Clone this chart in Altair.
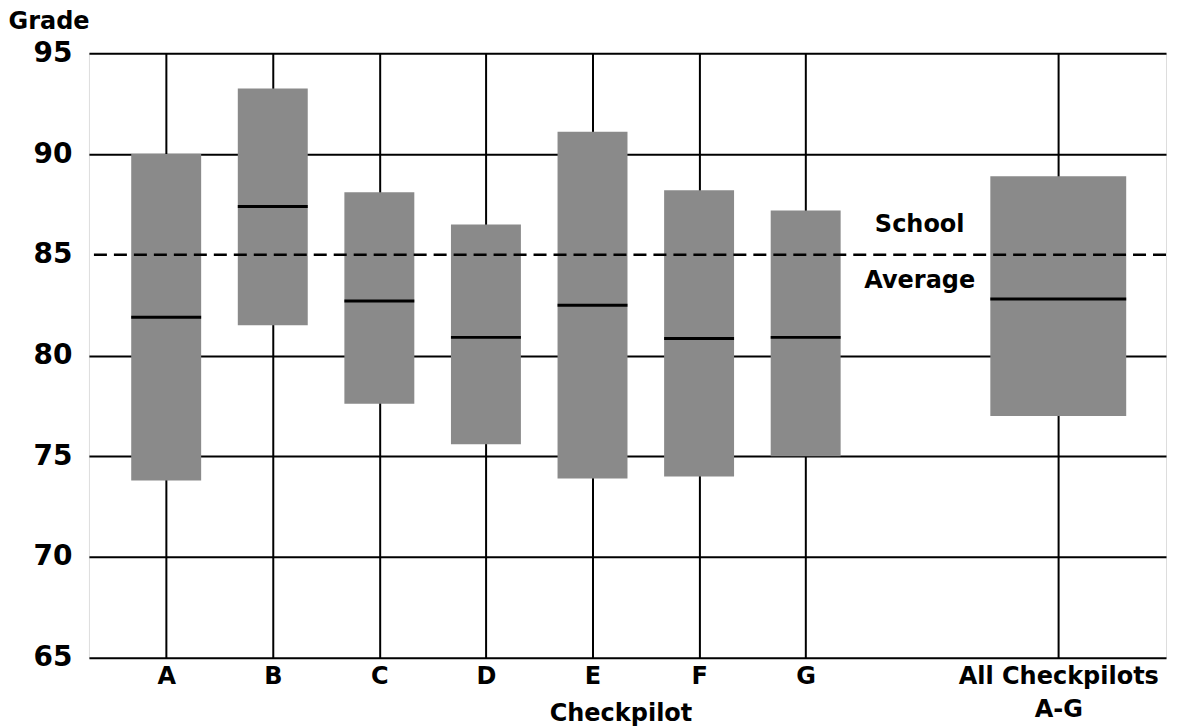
import json
import altair as alt
import pandas as pd

# ---- data ----
labels = ["A", "B", "C", "D", "E", "F", "G", "All Checkpilots A-G"]
label_lines = [["A"], ["B"], ["C"], ["D"], ["E"], ["F"], ["G"], ["All Checkpilots", "A-G"]]
positions = [1, 2, 3, 4, 5, 6, 7, 9.37]
lows = [73.8, 81.5, 77.6, 75.6, 73.9, 74.0, 75.0, 77.0]
highs = [90.0, 93.25, 88.1, 86.5, 91.1, 88.2, 87.2, 88.9]
medians = [81.9, 87.4, 82.7, 80.9, 82.5, 80.85, 80.9, 82.8]
groups = ["single"] * 7 + ["all"]
school_average = [85]
y_ticks = [65, 70, 75, 80, 85, 90, 95]
annot_text = ["School", "Average"]
annot_x = [8.07, 8.07]
annot_y = [86.5, 83.7]

df = pd.DataFrame({
    "label": labels, "pos": positions, "low": lows, "high": highs,
    "median": medians, "group": groups,
})
avg_df = pd.DataFrame({"avg": school_average})
ann_df = pd.DataFrame({"text": annot_text, "x": annot_x, "y": annot_y})

FONT = "DejaVu Sans"
label_expr = f"{json.dumps(label_lines)}[indexof({json.dumps(positions)}, datum.value)]"

x_scale = alt.Scale(domain=[0.322, 10.334], nice=False, zero=False)
y_scale = alt.Scale(domain=[65, 95], nice=False, zero=False)

x_enc = alt.X(
    "pos:Q", scale=x_scale,
    axis=alt.Axis(
        values=positions, labelExpr=label_expr, title="Checkpilot",
        grid=True, gridColor="black", gridWidth=2, ticks=False, domain=False,
        labelFont=FONT, labelFontWeight="bold", labelFontSize=24, labelColor="black",
        labelPadding=7, labelBaseline="top", labelLineHeight=33, labelFlush=False,
        labelOverlap=False, labelLimit=0,
        titleFont=FONT, titleFontWeight="bold", titleFontSize=24, titleColor="black",
        titleY=63, titleBaseline="alphabetic", titleX=532,
    ),
)
y_enc = alt.Y(
    "low:Q", scale=y_scale,
    axis=alt.Axis(
        values=y_ticks, title="Grade",
        grid=True, gridColor="black", gridWidth=2,
        gridOpacity={"condition": {"test": "datum.value == 85", "value": 0}, "value": 1},
        ticks=False, domain=False,
        labelFont=FONT, labelFontWeight="bold", labelFontSize=28, labelColor="black",
        labelPadding=17, labelFlush=False,
        titleFont=FONT, titleFontWeight="bold", titleFontSize=24, titleColor="black",
        titleAngle=0, titleAlign="left", titleBaseline="alphabetic",
        titleX=-81, titleY=-25,
    ),
)

base = alt.Chart(df)
GRAY = "#8a8a8a"

bars_single = base.transform_filter("datum.group == 'single'").mark_bar(
    width=70, color=GRAY
).encode(x=x_enc, y=y_enc, y2="high:Q")
bars_all = base.transform_filter("datum.group == 'all'").mark_bar(
    width=136, color=GRAY
).encode(x="pos:Q", y="low:Q", y2="high:Q")

med_single = base.transform_filter("datum.group == 'single'").mark_rule(
    color="black", strokeWidth=3, xOffset=-35, x2Offset=35
).encode(x="pos:Q", x2="pos:Q", y="median:Q")
med_all = base.transform_filter("datum.group == 'all'").mark_rule(
    color="black", strokeWidth=3, xOffset=-68, x2Offset=68
).encode(x="pos:Q", x2="pos:Q", y="median:Q")

avg_rule = alt.Chart(avg_df).mark_rule(
    color="black", strokeWidth=2.5, strokeDash=[13, 7]
).encode(y="avg:Q")

ann = alt.Chart(ann_df).mark_text(
    font=FONT, fontWeight="bold", fontSize=24, color="black",
    align="center", baseline="middle",
).encode(x="x:Q", y="y:Q", text="text:N")

chart = alt.layer(bars_single, bars_all, med_single, med_all, avg_rule, ann).properties(
    width=1078, height=605,
    autosize=alt.AutoSizeParams(type="none"),
    padding={"left": 81, "top": 45, "right": 10, "bottom": 70},
).configure_view(
    stroke="black", strokeWidth=2.5
).configure(background="white")

chart.save("out.html", embed_options={"renderer": "svg", "actions": False})
